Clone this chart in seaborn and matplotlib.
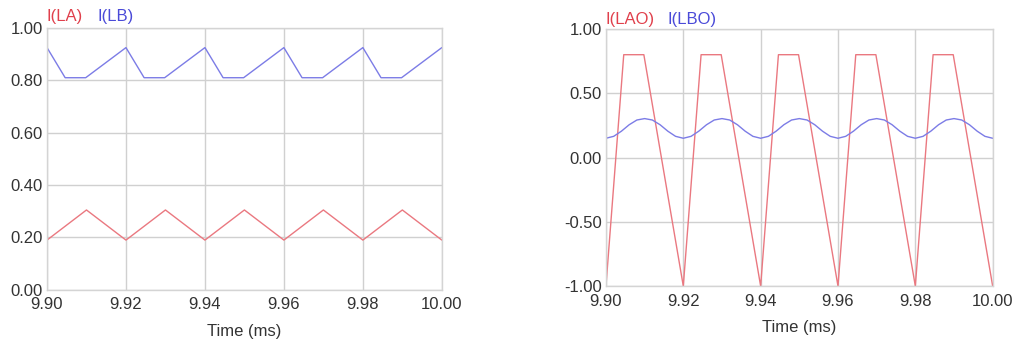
import matplotlib
matplotlib.use("Agg")
import matplotlib.pyplot as plt
import numpy as np
import pandas as pd
import seaborn as sns

# left panel: I(LA), I(LB)
t_la = [9.90, 9.91, 9.92, 9.93, 9.94, 9.95, 9.96, 9.97, 9.98, 9.99, 10.00]
i_la = [0.19, 0.305, 0.19, 0.305, 0.19, 0.305, 0.19, 0.305, 0.19, 0.305, 0.19]

t_lb = [9.90, 9.9046, 9.9098, 9.92, 9.9246, 9.9298, 9.94, 9.9446, 9.9498,
        9.96, 9.9646, 9.9698, 9.98, 9.9846, 9.9898, 10.00]
i_lb = [0.925, 0.81, 0.81, 0.925, 0.81, 0.81, 0.925, 0.81, 0.81,
        0.925, 0.81, 0.81, 0.925, 0.81, 0.81, 0.925]

# right panel: I(LAO), I(LBO)
t_lao = [9.90, 9.9046, 9.9098, 9.92, 9.9246, 9.9298, 9.94, 9.9446, 9.9498,
         9.96, 9.9646, 9.9698, 9.98, 9.9846, 9.9898, 10.00]
i_lao = [-1.0, 0.80, 0.80, -1.0, 0.80, 0.80, -1.0, 0.80, 0.80,
         -1.0, 0.80, 0.80, -1.0, 0.80, 0.80, -1.0]

t_lbo = [9.900, 9.902, 9.904, 9.906, 9.908, 9.910, 9.912, 9.914, 9.916, 9.918,
         9.920, 9.922, 9.924, 9.926, 9.928, 9.930, 9.932, 9.934, 9.936, 9.938,
         9.940, 9.942, 9.944, 9.946, 9.948, 9.950, 9.952, 9.954, 9.956, 9.958,
         9.960, 9.962, 9.964, 9.966, 9.968, 9.970, 9.972, 9.974, 9.976, 9.978,
         9.980, 9.982, 9.984, 9.986, 9.988, 9.990, 9.992, 9.994, 9.996, 9.998,
         10.000]
i_lbo = [0.150, 0.165, 0.205, 0.255, 0.292, 0.303, 0.292, 0.255, 0.205, 0.165,
         0.150, 0.165, 0.205, 0.255, 0.292, 0.303, 0.292, 0.255, 0.205, 0.165,
         0.150, 0.165, 0.205, 0.255, 0.292, 0.303, 0.292, 0.255, 0.205, 0.165,
         0.150, 0.165, 0.205, 0.255, 0.292, 0.303, 0.292, 0.255, 0.205, 0.165,
         0.150, 0.165, 0.205, 0.255, 0.292, 0.303, 0.292, 0.255, 0.205, 0.165,
         0.150]

x_ticks = [9.90, 9.92, 9.94, 9.96, 9.98, 10.00]
y_ticks_left = [0.0, 0.2, 0.4, 0.6, 0.8, 1.0]
y_ticks_right = [-1.0, -0.5, 0.0, 0.5, 1.0]

red_line = "#ea7880"
blue_line = "#7c7ce6"
red_text = "#e0404c"
blue_text = "#4a4ad8"

sns.set_style("whitegrid")
plt.rcParams['font.family'] = ['Liberation Sans', 'DejaVu Sans']

df_left = pd.concat([
    pd.DataFrame({'Time': t_la, 'I': i_la, 'Series': 'I(LA)'}),
    pd.DataFrame({'Time': t_lb, 'I': i_lb, 'Series': 'I(LB)'}),
])
df_right = pd.concat([
    pd.DataFrame({'Time': t_lao, 'I': i_lao, 'Series': 'I(LAO)'}),
    pd.DataFrame({'Time': t_lbo, 'I': i_lbo, 'Series': 'I(LBO)'}),
])

fig = plt.figure(figsize=(10.15, 3.41), dpi=100)
ax1 = fig.add_axes([0.0463, 0.150, 0.389, 0.768])
ax2 = fig.add_axes([0.597, 0.161, 0.381, 0.754])


def style_axis(ax, df, names, colors, yticks, ylim, label_y, second_x):
    sns.lineplot(data=df, x='Time', y='I', hue='Series', hue_order=names,
                 palette=colors, linewidth=1.0, ax=ax, legend=False,
                 estimator=None, sort=False)
    ax.set_xlim(9.90, 10.00)
    ax.set_ylim(*ylim)
    ax.set_xticks(x_ticks)
    ax.set_xticklabels([f"{v:.2f}" for v in x_ticks])
    ax.set_yticks(yticks)
    ax.set_yticklabels([f"{v:.2f}" for v in yticks])
    ax.tick_params(axis='x', pad=5.5, labelsize=12, colors='#333333', length=0)
    ax.tick_params(axis='y', pad=3, labelsize=12, colors='#333333', length=0)
    ax.grid(True, color='#d0d0d0', linewidth=1.0)
    for sp in ax.spines.values():
        sp.set_color('#d4d4d4')
        sp.set_linewidth(1.0)
    ax.set_xlabel('Time (ms)', fontsize=12, color='#333333', labelpad=8)
    ax.set_ylabel('')
    ax.text(0.0, label_y, names[0], color=red_text, fontsize=12,
            transform=ax.transAxes, va='center', ha='left')
    ax.text(second_x, label_y, names[1], color=blue_text, fontsize=12,
            transform=ax.transAxes, va='center', ha='left')


style_axis(ax1, df_left, ['I(LA)', 'I(LB)'], [red_line, blue_line],
           y_ticks_left, (0.0, 1.0), 1.045, 0.127)
style_axis(ax2, df_right, ['I(LAO)', 'I(LBO)'], [red_line, blue_line],
           y_ticks_right, (-1.0, 1.0), 1.035, 0.158)

fig.savefig('out.png', dpi=100)
